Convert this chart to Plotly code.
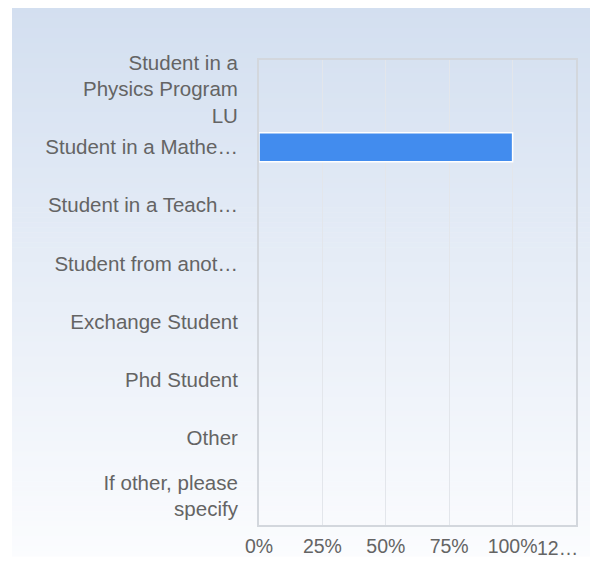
import plotly.graph_objects as go

categories = [
    "Student in a<br>Physics Program<br>LU",
    "Student in a Mathe…",
    "Student in a Teach…",
    "Student from anot…",
    "Exchange Student",
    "Phd Student",
    "Other",
    "If other, please<br>specify",
]
values = [0, 1.0, 0, 0, 0, 0, 0, 0]
tick_vals = [0, 0.25, 0.5, 0.75, 1.0]
tick_text = ["0%", "25%", "50%", "75%", "100%"]
overflow_tick = "12…"

# the page body adds an 8px margin, so the figure starts at (8, 8)
W, H = 590, 553
L, R, T, B = 251, 22, 52, 36
pw, ph = W - L - R, H - T - B

def px_to_paper_x(px):
    return (px - L) / pw

def px_to_paper_y(py):
    return (H - B - py) / ph

# gradient background stripes
shapes = []
top_c = (211, 223, 240)
bot_c = (251, 252, 254)
y0p, y1p = 0, 548
n = 110
for i in range(n):
    a = y0p + (y1p - y0p) * i / n
    b = y0p + (y1p - y0p) * (i + 1) / n
    t = (i + 0.5) / n
    c = tuple(round(top_c[k] + (bot_c[k] - top_c[k]) * t) for k in range(3))
    shapes.append(dict(
        type="rect", xref="paper", yref="paper", layer="below",
        x0=px_to_paper_x(4), x1=px_to_paper_x(W + 2),
        y0=px_to_paper_y(b + 0.6), y1=px_to_paper_y(a),
        fillcolor=f"rgb{c}", line=dict(width=0),
    ))

yfont = dict(family="Liberation Sans, Arial, sans-serif", size=20.5, color="#646464")
xfont = dict(family="Liberation Sans, Arial, sans-serif", size=19.5, color="#646464")

fig = go.Figure(go.Bar(
    x=values, y=categories, orientation="h",
    marker=dict(color="#428cee",
                line=dict(color="white", width=[1.5 if v > 0 else 0 for v in values])),
    width=0.5,
    hoverinfo="skip",
))

fig.update_layout(
    width=W, height=H,
    margin=dict(l=L, r=R, t=T, b=B, autoexpand=False),
    paper_bgcolor="white",
    plot_bgcolor="rgba(0,0,0,0)",
    font=yfont,
    showlegend=False,
    shapes=shapes,
    xaxis=dict(
        range=[0, 1.25], tickvals=tick_vals, ticktext=tick_text,
        showgrid=True, gridcolor="#e3e6eb", gridwidth=1,
        showline=True, linecolor="#d3d7dd", linewidth=2, mirror=True,
        zeroline=False, ticks="outside", ticklen=3, tickcolor="rgba(0,0,0,0)",
        tickfont=xfont, fixedrange=True, automargin=False,
    ),
    yaxis=dict(
        autorange="reversed", showgrid=False,
        showline=True, linecolor="#d3d7dd", linewidth=2, mirror=True,
        ticks="outside", ticklen=15, tickcolor="rgba(0,0,0,0)",
        tickfont=yfont, fixedrange=True, automargin=False,
    ),
    annotations=[dict(
        text=overflow_tick, x=1.25, xref="x", y=px_to_paper_y(540), yref="paper",
        xanchor="right", yanchor="middle", xshift=4,
        showarrow=False, font=xfont,
    )],
)

fig.write_html("out.html")
